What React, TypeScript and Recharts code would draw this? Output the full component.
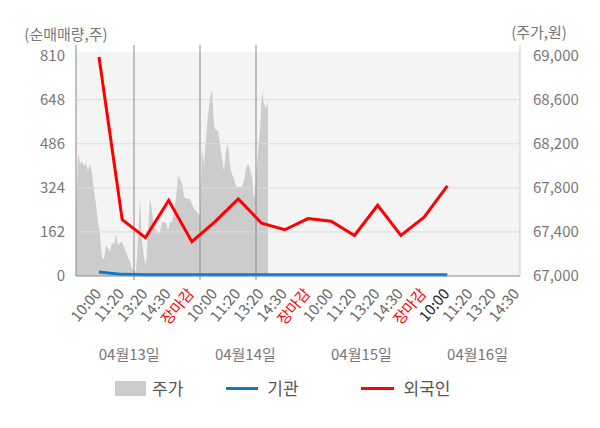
import {
  Area,
  ComposedChart,
  Legend,
  Line,
  ReferenceArea,
  ReferenceLine,
  XAxis,
  YAxis,
} from 'recharts';

// x-axis categories (one per sampling time)
const timeLabels = [
  '10:00', '11:20', '13:20', '14:30', '장마감',
  '10:00', '11:20', '13:20', '14:30', '장마감',
  '10:00', '11:20', '13:20', '14:30', '장마감',
  '10:00', '11:20', '13:20', '14:30',
];
const dayLabels = ['04월13일', '04월14일', '04월15일', '04월16일'];

// net buying volume (주)
const foreign = [805, 207, 141, 278, 126, 200, 283, 194, 170, 211, 201, 149, 260, 149, 216, 331];
const institution = [15, 6, 5, 5, 5, 5, 5, 5, 5, 5, 5, 5, 5, 5, 5, 5];

// intraday price (원)
const price = [
  67560, 68110, 68020, 68040, 68000, 68020, 67950, 68020, 67930, 67770,
  67650, 67490, 67380, 67170, 67150, 67280, 67250, 67220, 67310, 67280,
  67380, 67280, 67300, 67310, 67260, 67220, 67170, 67130, 67070, 67050,
  67040, 67340, 67700, 67310, 67170, 67100, 67400, 67700, 67590, 67450,
  67420, 67380, 67400, 67490, 67490, 67480, 67420, 67490, 67490, 67590,
  67700, 67910, 67880, 67840, 67720, 67700, 67700, 67700, 67650, 67610,
  67590, 67570, 67540, 68160, 68000, 68250, 68460, 68610, 68700, 68360,
  68320, 68320, 68200, 68070, 67950, 68140, 68200, 68000, 67920, 67890,
  67810, 67810, 67810, 67810, 67860, 67970, 68020, 67970, 67890, 67700,
  67860, 68140, 68320, 68680, 68570, 68520, 68590,
];
const priceSlots = 222;
const dayStarts = [29, 62, 90];

const volumeTicks = [0, 162, 324, 486, 648, 810];
const priceTicks = [67000, 67400, 67800, 68200, 68600, 69000];

const rows = timeLabels.map((_, k) => ({
  k,
  foreign: foreign[k] ?? null,
  institution: institution[k] ?? null,
}));
const priceRows = price.map((p, i) => ({ i, p }));

const FONT = "'Noto Sans CJK KR', 'Noto Sans', sans-serif";

function TimeTick({ x, y, payload, index }: any) {
  const label = timeLabels[payload.value];
  let color = '#666';
  if (label === '장마감') color = '#ff0000';
  if (index === 15) color = '#222';
  return (
    <g>
      <text
        x={x + 3}
        y={y + 10}
        transform={`rotate(-50, ${x + 3}, ${y + 10})`}
        textAnchor="end"
        fontSize={15}
        fill={color}
      >
        {label}
      </text>
      {index % 5 === 1 && (
        <text x={x + 7} y={360} textAnchor="middle" fontSize={15} fill="#777">
          {dayLabels[(index - 1) / 5]}
        </text>
      )}
    </g>
  );
}

function LegendBox() {
  const text = { fontSize: 17, color: '#555', lineHeight: '20px' };
  return (
    <div style={{ display: 'flex', alignItems: 'center', height: 40, paddingTop: 4, paddingLeft: 115, boxSizing: 'border-box' }}>
      <span style={{ width: 31, height: 15, background: '#cccccc', marginRight: 6 }} />
      <span style={text}>주가</span>
      <span style={{ width: 32, height: 3, background: '#0b7bc6', marginLeft: 43, marginRight: 9 }} />
      <span style={text}>기관</span>
      <span style={{ width: 33, height: 3, background: '#ff0000', marginLeft: 62, marginRight: 10 }} />
      <span style={text}>외국인</span>
    </div>
  );
}

export default function App() {
  return (
    <div style={{ position: 'absolute', left: 0, top: 0, fontFamily: FONT }}>
      <ComposedChart width={600} height={428} data={rows} margin={{ top: 45, right: 0, left: 0, bottom: 22 }}>
        <XAxis
          xAxisId="t"
          dataKey="k"
          type="category"
          interval={0}
          padding={{ left: 23, right: 3 }}
          axisLine={{ stroke: '#888' }}
          tickLine={false}
          tick={<TimeTick />}
          height={90}
        />
        <XAxis xAxisId="p" dataKey="i" type="number" domain={[0, priceSlots]} height={0} hide />
        <YAxis
          yAxisId="l"
          domain={[0, 849]}
          ticks={volumeTicks}
          width={76}
          axisLine={{ stroke: '#888' }}
          tickLine={false}
          tick={{ fontSize: 15, fill: '#777' }}
          tickMargin={5}
          label={{ value: '(순매매량,주)', position: 'top', offset: 5, dx: 28, fontSize: 15, fill: '#777' }}
        />
        <YAxis
          yAxisId="r"
          orientation="right"
          domain={[67000, 69096]}
          ticks={priceTicks}
          width={80}
          axisLine={{ stroke: '#ccc' }}
          tickLine={false}
          tick={{ fontSize: 15, fill: '#777' }}
          tickMargin={7}
          tickFormatter={(v: number) => v.toLocaleString('en-US')}
          label={{ value: '(주가,원)', position: 'top', offset: 7, dx: -21, fontSize: 15, fill: '#777' }}
        />
        <ReferenceArea
          xAxisId="p"
          yAxisId="l"
          y1={0}
          y2={823}
          fill="#f4f4f4"
          fillOpacity={1}
          stroke="none"
          zIndex={-200}
        />
        <Area
          xAxisId="p"
          yAxisId="r"
          data={priceRows}
          dataKey="p"
          type="linear"
          stroke="none"
          fill="#cccccc"
          fillOpacity={1}
          isAnimationActive={false}
          name="주가"
        />
        {volumeTicks.slice(1, 5).map((v) => (
          <ReferenceLine key={v} xAxisId="p" yAxisId="l" y={v} stroke="#dcdcdc" zIndex={150} />
        ))}
        {dayStarts.map((d) => (
          <ReferenceLine
            key={d}
            xAxisId="p"
            yAxisId="l"
            segment={[{ x: d, y: -15 }, { x: d, y: 849 }]}
            ifOverflow="visible"
            stroke="#888"
            zIndex={150}
          />
        ))}
        <Line
          xAxisId="t"
          yAxisId="l"
          dataKey="institution"
          stroke="#0b7bc6"
          strokeWidth={3}
          dot={false}
          isAnimationActive={false}
          name="기관"
        />
        <Line
          xAxisId="t"
          yAxisId="l"
          dataKey="foreign"
          stroke="#ff0000"
          strokeWidth={3}
          dot={false}
          isAnimationActive={false}
          name="외국인"
        />
        <Legend verticalAlign="bottom" height={40} content={<LegendBox />} />
      </ComposedChart>
    </div>
  );
}
